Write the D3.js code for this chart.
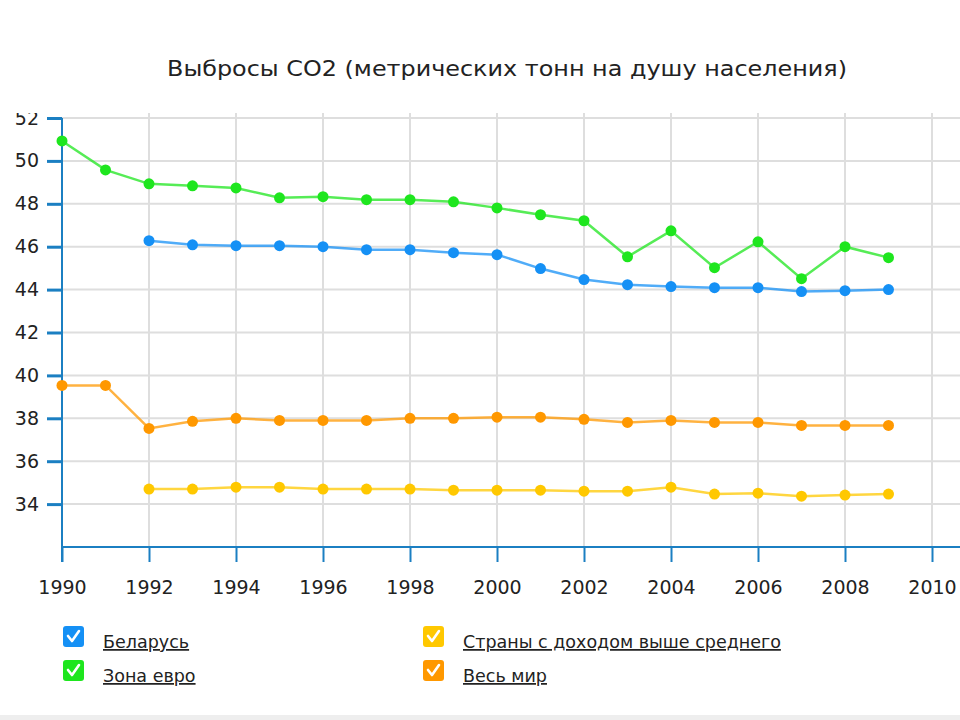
<!DOCTYPE html>
<html><head><meta charset="utf-8">
<script src="https://cdn.jsdelivr.net/npm/d3@7"></script>
<style>body{margin:0;background:#fff}svg{display:block}</style>
</head><body>
<svg id="c" width="960" height="720"></svg>
<script>
const title = "Выбросы CO2 (метрических тонн на душу населения)";
const yearsAll = [1990,1991,1992,1993,1994,1995,1996,1997,1998,1999,2000,2001,2002,2003,2004,2005,2006,2007,2008,2009];
const yearsFrom1992 = yearsAll.slice(2);
const belarus = [46.28,46.09,46.05,46.05,46.0,45.86,45.86,45.72,45.63,44.98,44.47,44.23,44.14,44.09,44.09,43.91,43.95,44.0];
const euroZone = [50.93,49.58,48.93,48.84,48.74,48.28,48.33,48.19,48.19,48.09,47.81,47.49,47.21,45.53,46.74,45.02,46.23,44.51,46.0,45.49];
const upperMiddle = [34.7,34.7,34.79,34.79,34.7,34.7,34.7,34.65,34.65,34.65,34.6,34.6,34.79,34.47,34.51,34.37,34.42,34.47];
const world = [39.53,39.53,37.53,37.86,38.0,37.9,37.9,37.9,38.0,38.0,38.05,38.05,37.95,37.81,37.9,37.81,37.81,37.67,37.67,37.67];
const xTicks = [1990,1992,1994,1996,1998,2000,2002,2004,2006,2008,2010];
const yTicks = [34,36,38,40,42,44,46,48,50,52];
const seriesNames = ["Беларусь","Зона евро","Страны с доходом выше среднего","Весь мир"];
const seriesColors = ["#1590f5","#1ee61e","#ffc800","#ff9800"];

const series = [
  {name: seriesNames[0], color: seriesColors[0], years: yearsFrom1992, vals: belarus},
  {name: seriesNames[1], color: seriesColors[1], years: yearsAll, vals: euroZone},
  {name: seriesNames[2], color: seriesColors[2], years: yearsFrom1992, vals: upperMiddle},
  {name: seriesNames[3], color: seriesColors[3], years: yearsAll, vals: world}
];

const svg = d3.select("#c");
const font = "'DejaVu Sans', Verdana, sans-serif";
const x = d3.scaleLinear().domain([1990,2010]).range([62,932]);
const y = d3.scaleLinear().domain([32,52]).range([547,118]);
const axisColor = "#1b7fc2";

svg.append("text").attr("x",507).attr("y",76).attr("text-anchor","middle")
  .attr("font-family",font).attr("font-size",21).attr("fill","#222")
  .attr("textLength",680).attr("lengthAdjust","spacingAndGlyphs")
  .text(title);

svg.append("defs").append("clipPath").attr("id","clip")
  .append("rect").attr("x",0).attr("y",113).attr("width",960).attr("height",500);

const g = svg.append("g").attr("clip-path","url(#clip)");

// grid
g.selectAll(".hg").data(yTicks).enter().append("line")
  .attr("x1",62).attr("x2",960).attr("y1",d=>y(d)).attr("y2",d=>y(d))
  .attr("stroke","#dedede").attr("stroke-width",2);
g.selectAll(".vg").data(xTicks.slice(1)).enter().append("line")
  .attr("x1",d=>x(d)).attr("x2",d=>x(d)).attr("y1",100).attr("y2",547)
  .attr("stroke","#dedede").attr("stroke-width",2);

// y axis
const yAxis = d3.axisLeft(y).tickValues(yTicks).tickSize(15).tickPadding(8).tickFormat(d3.format("d"));
const ya = g.append("g").attr("transform","translate(62,0)").call(yAxis);
ya.select(".domain").remove();
ya.selectAll(".tick line").attr("stroke",axisColor).attr("stroke-width",3);
ya.selectAll(".tick text").attr("font-family",font).attr("font-size",19).attr("fill","#222");
g.append("line").attr("x1",62).attr("x2",62).attr("y1",118).attr("y2",562)
  .attr("stroke",axisColor).attr("stroke-width",2);

// x axis
const xAxis = d3.axisBottom(x).tickValues(xTicks).tickSize(15).tickPadding(19).tickFormat(d3.format("d"));
const xa = g.append("g").attr("transform","translate(0,547)").call(xAxis);
xa.select(".domain").remove();
xa.selectAll(".tick line").attr("stroke",axisColor).attr("stroke-width",2);
xa.selectAll(".tick text").attr("font-family",font).attr("font-size",19).attr("fill","#222");
g.append("line").attr("x1",62).attr("x2",960).attr("y1",547).attr("y2",547)
  .attr("stroke",axisColor).attr("stroke-width",2);

// lines
const line = d3.line().x(d=>x(d[0])).y(d=>y(d[1]));
series.forEach(s=>{
  const pts = s.years.map((yr,i)=>[yr,s.vals[i]]);
  g.append("path").datum(pts).attr("d",line).attr("fill","none")
    .attr("stroke",s.color).attr("stroke-width",2.5).attr("stroke-opacity",0.75);
  g.selectAll(null).data(pts).enter().append("circle")
    .attr("cx",d=>x(d[0])).attr("cy",d=>y(d[1])).attr("r",5.5).attr("fill",s.color);
});

// legend
const legPos = [[63,626],[63,660],[423,626],[423,660]];
series.forEach((s,i)=>{
  const [lx,ly] = legPos[i];
  const lg = svg.append("g").attr("transform",`translate(${lx},${ly})`);
  lg.append("rect").attr("width",21).attr("height",21).attr("rx",3).attr("fill",s.color);
  lg.append("path").attr("d","M5,10 L9,15 L16,5").attr("fill","none").attr("stroke","#fff")
    .attr("stroke-width",2.6).attr("stroke-linecap","round").attr("stroke-linejoin","round");
  lg.append("text").attr("x",40).attr("y",22).attr("font-family",font).attr("font-size",17.5)
    .attr("fill","#222").attr("text-decoration","underline").text(s.name);
});

svg.append("rect").attr("x",0).attr("y",715).attr("width",960).attr("height",5).attr("fill","#eeeeee");
</script>
</body></html>
